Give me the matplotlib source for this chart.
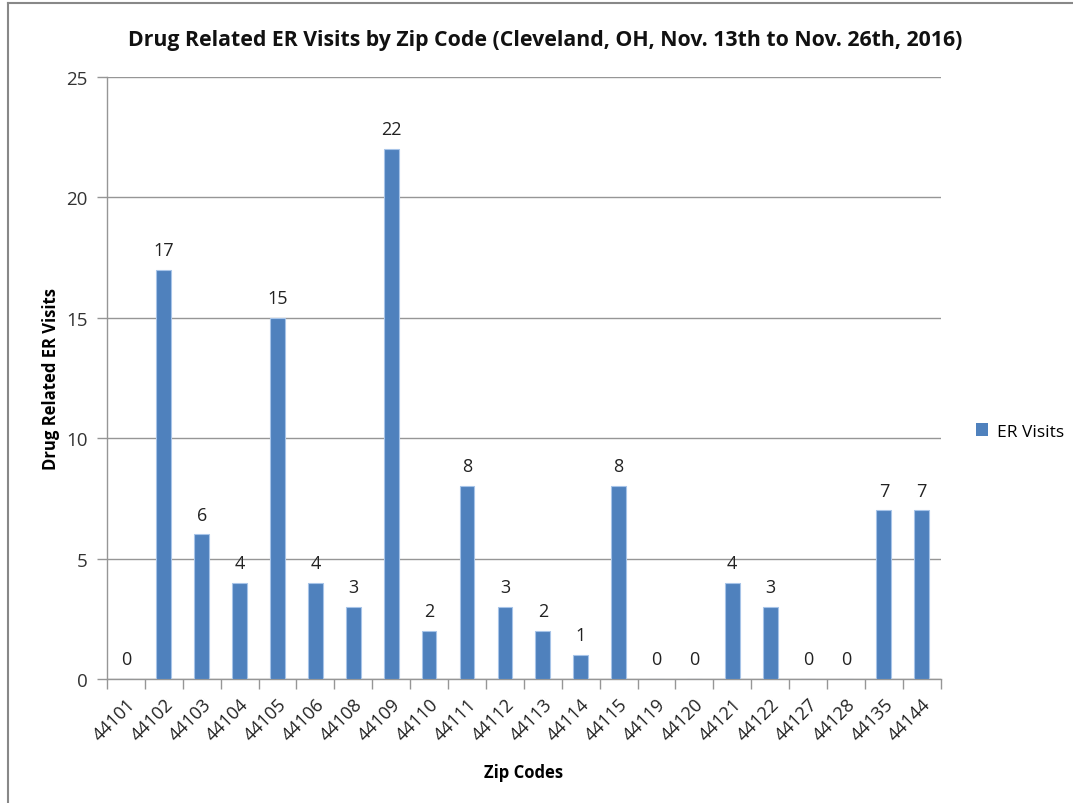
import matplotlib.pyplot as plt
from matplotlib.lines import Line2D
from matplotlib.patches import Patch

# ==========================================
# Data
# ==========================================
zip_codes = ["44101", "44102", "44103", "44104", "44105", "44106", "44108",
             "44109", "44110", "44111", "44112", "44113", "44114", "44115",
             "44119", "44120", "44121", "44122", "44127", "44128", "44135",
             "44144"]
er_visits = [0, 17, 6, 4, 15, 4, 3, 22, 2, 8, 3, 2, 1, 8, 0, 0, 4, 3, 0, 0, 7, 7]
y_ticks = [0, 5, 10, 15, 20, 25]

bar_color = "#4F81BD"
grid_color = "#969696"
plt.rcParams["font.family"] = ["Open Sans", "DejaVu Sans"]

# ==========================================
# Figure
# ==========================================
fig = plt.figure(figsize=(10.73, 8.04), dpi=100)
ax = fig.add_axes([0.0997, 0.1542, 0.777, 0.749])

x = list(range(len(zip_codes)))
ax.bar(x, er_visits, width=0.39, color=bar_color, edgecolor="#A7C4E8",
       linewidth=0.8, zorder=3)
for xi, v in zip(x, er_visits):
    ax.text(xi, v + 0.45, str(v), ha="center", va="bottom", fontsize=13, color="#222222")

ax.set_xlim(-0.5, len(zip_codes) - 0.5)
ax.set_ylim(0, 25)
ax.set_yticks(y_ticks)
ax.set_yticklabels([str(t) for t in y_ticks], fontsize=13.5, color="#333333")
ax.yaxis.grid(True, color=grid_color, linewidth=1, zorder=0)

ax.set_xticks(x)
ax.set_xticklabels(zip_codes, rotation=45, ha="right", rotation_mode="anchor",
                   fontsize=13, color="#222222")
ax.tick_params(axis="x", length=0, pad=11)
ax.set_xticks([i - 0.5 for i in range(len(zip_codes) + 1)], minor=True)
ax.tick_params(axis="x", which="minor", length=7, color=grid_color, width=1)
ax.tick_params(axis="y", length=7, color=grid_color, width=1, pad=7)

for s in ["top", "right"]:
    ax.spines[s].set_visible(False)
for s in ["left", "bottom"]:
    ax.spines[s].set_color(grid_color)
    ax.spines[s].set_linewidth(1)

ax.set_xlabel("Zip Codes", fontsize=12, fontweight="bold", labelpad=14)
ax.set_ylabel("Drug Related ER Visits", fontsize=12, fontweight="bold", labelpad=4)
fig.text(0.508, 0.950, "Drug Related ER Visits by Zip Code (Cleveland, OH, Nov. 13th to Nov. 26th, 2016)",
         ha="center", va="center", fontsize=15.3, fontweight="bold", color="#111111")

# legend
fig.legend(handles=[Patch(facecolor=bar_color, label="ER Visits")], loc="center left",
           bbox_to_anchor=(0.895, 0.462), frameon=False, fontsize=12.5,
           handlelength=0.7, handleheight=0.7, handletextpad=0.5)

# outer chart border (top and left)
fig.add_artist(Line2D([0.0075, 1.0], [0.995, 0.995], color="#888888", linewidth=1.5,
                      transform=fig.transFigure))
fig.add_artist(Line2D([0.0075, 0.0075], [0.0, 0.995], color="#888888", linewidth=1.5,
                      transform=fig.transFigure))

fig.savefig("out.png", dpi=100)
